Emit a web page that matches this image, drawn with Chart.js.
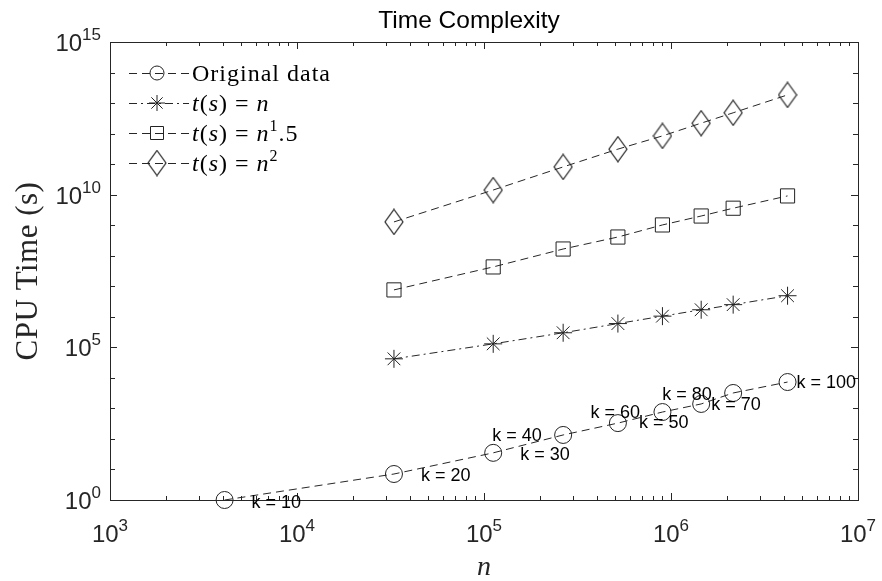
<!DOCTYPE html>
<html>
<head>
<meta charset="utf-8">
<script src="https://cdn.jsdelivr.net/npm/chart.js@4/dist/chart.umd.min.js"></script>
<style>
  html, body { margin: 0; padding: 0; background: #fff; }
  canvas { display: block; }
</style>
</head>
<body>
<canvas id="chartTime" width="882" height="581"></canvas>
<script>
// values
const kValues = [10, 20, 30, 40, 50, 60, 70, 80, 100];
const nOriginal = [4100, 33000, 112000, 265000, 520000, 900000, 1450000, 2150000, 4200000];
const tOriginal = [1.0, 7.1, 35, 135, 330, 760, 1400, 3200, 7300];
const nModel = [33000, 112000, 265000, 520000, 900000, 1450000, 2150000, 4200000];
const tLinear = [42000, 130000, 300000, 600000, 1050000, 1700000, 2500000, 4900000];
const tPow15 = [7.6e6, 4.3e7, 1.66e8, 4.1e8, 1.02e9, 2.0e9, 3.6e9, 9.1e9];
const tPow2 = [1.28e9, 1.42e10, 8.1e10, 3.1e11, 8.4e11, 2.2e12, 4.8e12, 1.85e13];
const xTickExps = [3, 4, 5, 6, 7];
const yTickExps = [0, 5, 10, 15];

// pixel offsets of the "k = .." labels from their circle
const kLabelOffsets = [[27, 3], [27, 2], [27, 2], [-71, 1], [21, 0], [-72, 1], [10, 1], [-71, 2], [9, 1]];

const axisColor = '#262626';
const lineColor = '#262626';
const markColor = '#222222';
const dashed = [8, 5];
const dashDot = [8, 4, 2, 4];

function makeDiamond(w, h) {
  let c = document.createElement('canvas');
  c.width = w + 2;
  c.height = h + 2;
  let g = c.getContext('2d');
  g.strokeStyle = markColor;
  g.lineWidth = 1.2;
  g.beginPath();
  g.moveTo(c.width / 2, 1);
  g.lineTo(c.width - 1, c.height / 2);
  g.lineTo(c.width / 2, c.height - 1);
  g.lineTo(1, c.height / 2);
  g.closePath();
  g.stroke();
  return c;
}
const diamondImg = makeDiamond(18, 25);

function toPoints(xs, ys) {
  return xs.map((x, i) => ({ x: x, y: ys[i] }));
}

function series(label, xs, ys, style, radius, dash) {
  return {
    label: label,
    data: toPoints(xs, ys),
    borderColor: lineColor,
    borderWidth: 1,
    borderDash: dash,
    backgroundColor: 'rgba(0,0,0,0)',
    pointStyle: style,
    pointRadius: radius,
    pointBorderColor: markColor,
    pointBorderWidth: 1,
    pointBackgroundColor: 'rgba(0,0,0,0)',
    tension: 0,
    clip: false,
  };
}

// "10" with a raised exponent, like MATLAB tick labels
function drawPow(ctx, exp, x, y, align) {
  ctx.font = '24px "Liberation Sans", Arial, sans-serif';
  let wb = ctx.measureText('10').width;
  ctx.font = '17px "Liberation Sans", Arial, sans-serif';
  let we = ctx.measureText(String(exp)).width;
  let sx = align === 'right' ? x - wb - we : x - (wb + we) / 2;
  ctx.textAlign = 'left';
  ctx.textBaseline = 'alphabetic';
  ctx.font = '24px "Liberation Sans", Arial, sans-serif';
  ctx.fillText('10', sx, y);
  ctx.font = '17px "Liberation Sans", Arial, sans-serif';
  ctx.fillText(String(exp), sx + wb, y - 11);
}

// mixed roman / italic / superscript text for legend entries
function drawMath(ctx, parts, x, y) {
  let cx = x;
  ctx.save();
  ctx.textAlign = 'left';
  ctx.textBaseline = 'alphabetic';
  ctx.letterSpacing = '1px';
  for (const [txt, kind] of parts) {
    let dy = 0;
    if (kind === 'i') ctx.font = 'italic 24px "Liberation Serif", serif';
    else if (kind === 's') { ctx.font = '16px "Liberation Serif", serif'; dy = -10; }
    else ctx.font = '24px "Liberation Serif", serif';
    ctx.fillText(txt, cx, y + dy);
    cx += ctx.measureText(txt).width;
  }
  ctx.restore();
}

function drawMarker(ctx, kind, x, y) {
  ctx.save();
  ctx.setLineDash([]);
  ctx.strokeStyle = markColor;
  ctx.lineWidth = 1;
  ctx.beginPath();
  if (kind === 'circle') {
    ctx.arc(x, y, 7, 0, Math.PI * 2);
  } else if (kind === 'star') {
    let r = 8;
    ctx.moveTo(x - r, y); ctx.lineTo(x + r, y);
    ctx.moveTo(x, y - r); ctx.lineTo(x, y + r);
    let d = r * Math.SQRT1_2;
    ctx.moveTo(x - d, y - d); ctx.lineTo(x + d, y + d);
    ctx.moveTo(x - d, y + d); ctx.lineTo(x + d, y - d);
  } else if (kind === 'rect') {
    ctx.rect(x - 6.5, y - 6.5, 13, 13);
  }
  ctx.stroke();
  if (kind === 'diamond') {
    ctx.drawImage(diamondImg, x - diamondImg.width / 2, y - diamondImg.height / 2);
  }
  ctx.restore();
}

const legendRows = [
  { marker: 'circle', dash: dashed, parts: [['Original data', 'r']] },
  { marker: 'star', dash: dashDot, parts: [['t', 'i'], ['(', 'r'], ['s', 'i'], [') = ', 'r'], ['n', 'i']] },
  { marker: 'rect', dash: dashed, parts: [['t', 'i'], ['(', 'r'], ['s', 'i'], [') = ', 'r'], ['n', 'i'], ['1', 's'], ['.5', 'r']] },
  { marker: 'diamond', dash: dashed, parts: [['t', 'i'], ['(', 'r'], ['s', 'i'], [') = ', 'r'], ['n', 'i'], ['2', 's']] },
];

const matlabAxes = {
  id: 'matlabAxes',
  afterDraw(chart) {
    const ctx = chart.ctx;
    const a = chart.chartArea;
    const xs = chart.scales.x;
    const ys = chart.scales.y;
    ctx.save();

    // box
    ctx.strokeStyle = axisColor;
    ctx.lineWidth = 1;
    ctx.setLineDash([]);
    ctx.strokeRect(Math.round(a.left) + 0.5, Math.round(a.top) + 0.5, Math.round(a.right - a.left), Math.round(a.bottom - a.top));

    // ticks pointing inward on all four sides
    ctx.beginPath();
    for (let e = 3; e <= 7; e++) {
      for (let m = 1; m <= 9; m++) {
        if (e === 7 && m > 1) break;
        let v = m * Math.pow(10, e);
        let px = Math.round(xs.getPixelForValue(v)) + 0.5;
        let len = m === 1 ? 7 : 4;
        ctx.moveTo(px, a.bottom); ctx.lineTo(px, a.bottom - len);
        ctx.moveTo(px, a.top); ctx.lineTo(px, a.top + len);
      }
    }
    for (let e = 0; e <= 15; e++) {
      let py = Math.round(ys.getPixelForValue(Math.pow(10, e))) + 0.5;
      let len = e % 5 === 0 ? 7 : 5;
      ctx.moveTo(a.left, py); ctx.lineTo(a.left + len, py);
      ctx.moveTo(a.right, py); ctx.lineTo(a.right - len, py);
    }
    ctx.stroke();

    // tick labels
    ctx.fillStyle = axisColor;
    xTickExps.forEach(e => {
      drawPow(ctx, e, xs.getPixelForValue(Math.pow(10, e)), a.bottom + 42, 'center');
    });
    yTickExps.forEach(e => {
      drawPow(ctx, e, a.left - 9, ys.getPixelForValue(Math.pow(10, e)) + 9, 'right');
    });

    // axis titles
    ctx.font = 'italic 28px "Liberation Serif", serif';
    ctx.textAlign = 'center';
    ctx.fillText('n', (a.left + a.right) / 2, 575);
    ctx.save();
    ctx.translate(37, (a.top + a.bottom) / 2);
    ctx.rotate(-Math.PI / 2);
    ctx.font = '31px "Liberation Serif", serif';
    ctx.letterSpacing = '0.5px';
    ctx.textBaseline = 'alphabetic';
    ctx.fillText('CPU Time (s)', 0, 0);
    ctx.restore();

    // title
    ctx.fillStyle = '#000';
    ctx.font = '24.5px "Liberation Sans", Arial, sans-serif';
    ctx.textAlign = 'center';
    ctx.fillText('Time Complexity', 469, 28);

    // k labels beside the original data circles
    ctx.font = '18px "Liberation Sans", Arial, sans-serif';
    ctx.textAlign = 'left';
    ctx.textBaseline = 'middle';
    kValues.forEach((k, i) => {
      let px = xs.getPixelForValue(nOriginal[i]);
      let py = ys.getPixelForValue(tOriginal[i]);
      ctx.fillText('k = ' + k, px + kLabelOffsets[i][0], py + kLabelOffsets[i][1]);
    });

    // legend (box off)
    legendRows.forEach((row, i) => {
      let ry = 73 + i * 30;
      ctx.save();
      ctx.strokeStyle = lineColor;
      ctx.lineWidth = 1;
      ctx.setLineDash(row.dash);
      ctx.beginPath();
      ctx.moveTo(129, ry + 0.5);
      ctx.lineTo(189, ry + 0.5);
      ctx.stroke();
      ctx.restore();
      drawMarker(ctx, row.marker, 157, ry);
      ctx.fillStyle = '#000';
      drawMath(ctx, row.parts, 192, ry + 8);
    });

    ctx.restore();
  }
};

const chartTime = document.getElementById('chartTime');
const chart = new Chart(chartTime, {
  type: 'line',
  data: {
    datasets: [
      series('Original data', nOriginal, tOriginal, 'circle', 8.5, dashed),
      series('t(s) = n', nModel, tLinear, 'star', 9, dashDot),
      series('t(s) = n^1.5', nModel, tPow15, 'rect', 10, dashed),
      series('t(s) = n^2', nModel, tPow2, diamondImg, 10, dashed),
    ]
  },
  options: {
    responsive: false,
    devicePixelRatio: 1,
    animation: false,
    layout: { padding: { top: 42, right: 24, left: 0, bottom: 0 } },
    plugins: {
      legend: { display: false },
      title: { display: false },
      tooltip: { enabled: false },
    },
    scales: {
      x: {
        type: 'logarithmic',
        min: 1e3,
        max: 1e7,
        grid: { display: false },
        border: { display: false },
        ticks: { display: false },
        afterFit: s => { s.height = 81; },
      },
      y: {
        type: 'logarithmic',
        min: 1,
        max: 1e15,
        grid: { display: false },
        border: { display: false },
        ticks: { display: false },
        afterFit: s => { s.width = 110; },
      }
    }
  },
  plugins: [matlabAxes]
});
</script>
</body>
</html>
